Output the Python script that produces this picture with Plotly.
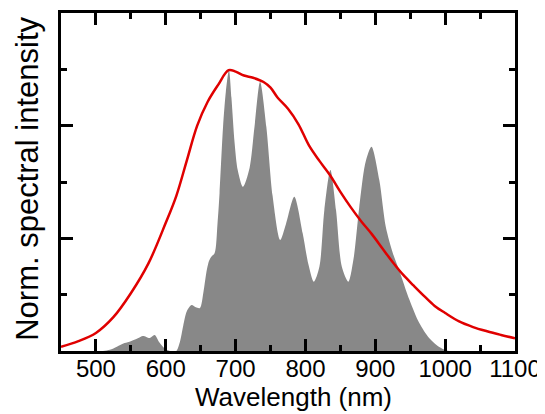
import plotly.graph_objects as go

# Red curve (broad spectrum)
red_wl = [450, 475, 500, 525, 550, 575, 600, 615, 630, 645, 660, 675, 690, 700, 712, 725,
          740, 750, 760, 775, 790, 805, 820, 835, 850, 865, 880, 895, 910, 925, 940, 955,
          970, 985, 1000, 1020, 1040, 1060, 1080, 1100]
red_val = [0.015, 0.035, 0.064, 0.12, 0.205, 0.31, 0.455, 0.55, 0.675, 0.80, 0.885, 0.945,
           0.997, 0.992, 0.978, 0.97, 0.955, 0.935, 0.90, 0.86, 0.805, 0.73, 0.675, 0.625,
           0.565, 0.51, 0.46, 0.415, 0.365, 0.315, 0.27, 0.232, 0.195, 0.16, 0.135, 0.105,
           0.085, 0.07, 0.057, 0.045]

# Gray filled spectrum
gray_wl = [450, 510, 520, 530, 541, 550, 560, 567, 572, 577, 584, 591, 598, 606, 615, 620,
           625, 630, 637, 643, 649, 654, 658, 662, 665, 670, 674, 677, 682, 686, 690.5, 694,
           698.6, 703, 710.5, 720, 727, 735, 744, 753, 763.8, 772, 784, 796, 804, 812, 820,
           827, 835.7, 843.8, 852, 861.4, 869, 877, 886, 894.5, 905.7, 915, 925, 934, 949,
           963, 977, 991, 1002, 1010, 1100]
gray_val = [0, 0, 0.004, 0.015, 0.028, 0.035, 0.045, 0.053, 0.05, 0.046, 0.057, 0.03, 0.01,
            0, 0, 0.03, 0.09, 0.14, 0.163, 0.155, 0.153, 0.21, 0.277, 0.32, 0.334, 0.348,
            0.45, 0.56, 0.795, 0.92, 0.998, 0.9, 0.738, 0.643, 0.583, 0.65, 0.795, 0.956,
            0.795, 0.55, 0.394, 0.45, 0.548, 0.418, 0.31, 0.246, 0.3, 0.50, 0.643, 0.50,
            0.30, 0.246, 0.33, 0.51, 0.67, 0.725, 0.607, 0.441, 0.348, 0.288, 0.181, 0.099,
            0.046, 0.015, 0.002, 0, 0]

FONT = "Liberation Sans, Arial, sans-serif"

fig = go.Figure()
fig.add_trace(go.Scatter(x=gray_wl, y=gray_val, mode="lines", fill="tozeroy",
                         line=dict(color="#888888", width=0, shape="spline", smoothing=0.8),
                         fillcolor="#888888", hoverinfo="skip", showlegend=False))
fig.add_trace(go.Scatter(x=red_wl, y=red_val, mode="lines",
                         line=dict(color="#e00000", width=2.5, shape="spline", smoothing=1.0),
                         showlegend=False))

fig.update_layout(
    width=545, height=414,
    margin=dict(l=53, r=38, t=5, b=71),
    paper_bgcolor="white", plot_bgcolor="white",
    font=dict(family=FONT, color="black"),
    xaxis=dict(range=[450, 1100], tick0=0, dtick=100, ticks="inside", ticklen=12,
               tickwidth=2.5, tickcolor="black", showline=True, linecolor="black",
               linewidth=3, mirror="ticks", showgrid=False, zeroline=False,
               tickfont=dict(size=24, family=FONT, color="black"),
               ticklabelstandoff=-6,
               minor=dict(dtick=50, tick0=0, ticks="inside", ticklen=6, tickwidth=2.5,
                          tickcolor="black", showgrid=False),
               automargin=False),
    yaxis=dict(range=[0, 1.2], tick0=0, dtick=0.4, ticks="inside", ticklen=12,
               tickwidth=2.5, tickcolor="black", showline=True, linecolor="black",
               linewidth=3, mirror="ticks", showgrid=False, zeroline=False,
               showticklabels=False,
               minor=dict(dtick=0.2, tick0=0, ticks="inside", ticklen=6, tickwidth=2.5,
                          tickcolor="black", showgrid=False),
               automargin=False),
    annotations=[
        dict(text="Wavelength (nm)", xref="paper", yref="paper", x=0.512, y=-0.136,
             xanchor="center", yanchor="middle", showarrow=False,
             font=dict(size=26, family=FONT, color="black")),
        dict(text="Norm. spectral intensity", xref="paper", yref="paper", x=-0.073, y=0.509,
             xanchor="center", yanchor="middle", showarrow=False, textangle=-90,
             font=dict(size=31, family=FONT, color="black")),
    ],
)

fig.write_html("out.html")
